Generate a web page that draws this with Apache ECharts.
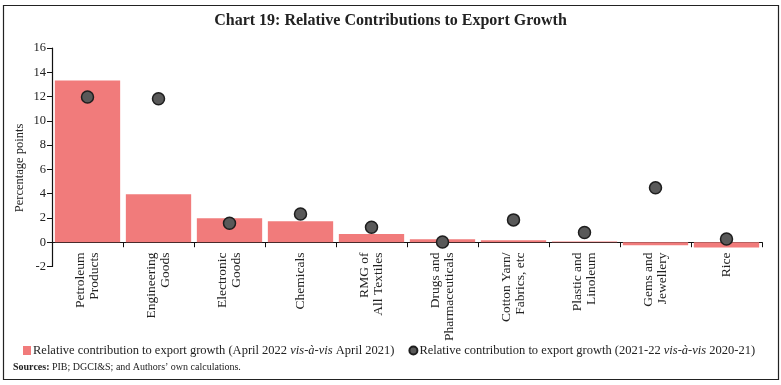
<!DOCTYPE html>
<html><head><meta charset="utf-8">
<script src="https://cdn.jsdelivr.net/npm/echarts@6/dist/echarts.min.js"></script>
<style>html,body{margin:0;padding:0;background:#fff}#c{width:781px;height:385px}</style>
</head><body><div id="c"></div>
<script>
const categories = ["Petroleum\nProducts","Engineering\nGoods","Electronic\nGoods","Chemicals","RMG of\nAll Textiles","Drugs and\nPharmaceuticals","Cotton Yarn/\nFabrics, etc","Plastic and\nLinoleum","Gems and\nJewellery","Rice"];
const aprilContrib = [13.33, 3.96, 1.98, 1.73, 0.68, 0.25, 0.16, 0.05, -0.25, -0.44];
const annualContrib = [11.96, 11.82, 1.57, 2.33, 1.24, 0.02, 1.84, 0.80, 4.48, 0.27];
const yTicks = {min: -2, max: 16, interval: 2};

const FF = '"Liberation Serif", "DejaVu Serif", serif';
const chart = echarts.init(document.getElementById('c'));
chart.setOption({
  animation: false,
  textStyle: {fontFamily: FF},
  title: {text: 'Chart 19: Relative Contributions to Export Growth', left: 'center', top: 8,
    textStyle: {fontFamily: FF, fontWeight: 'bold', fontSize: 16, color: '#222'}},
  grid: {left: 52, right: 19, top: 48, bottom: 118.5},
  legend: {
    bottom: 23, left: 18, itemGap: 14, itemWidth: 8, itemHeight: 9,
    textStyle: {fontFamily: FF, fontSize: 12.5, color: '#222', padding: [0,0,0,-3],
      rich: {i: {fontStyle: 'italic', fontFamily: FF, fontSize: 12.5, color: '#222'}}},
    formatter: function (n) {
      if (n === 'a') return 'Relative contribution to export growth (April 2022 {i|vis-à-vis} April 2021)';
      return 'Relative contribution to export growth (2021-22 {i|vis-à-vis} 2020-21)';
    },
    data: [{name: 'a', icon: 'rect'}, {name: 'b', icon: 'circle'}]
  },
  xAxis: {
    type: 'category', data: categories,
    axisLine: {onZero: true, lineStyle: {color: '#111', width: 1.2}},
    axisTick: {show: true, length: 5, lineStyle: {color: '#111'}},
    axisLabel: {rotate: 90, interval: 0, fontFamily: FF, fontSize: 13.5, color: '#222', lineHeight: 14, margin: -14}
  },
  yAxis: {
    type: 'value', min: yTicks.min, max: yTicks.max, interval: yTicks.interval,
    splitLine: {show: false},
    axisLine: {show: true, lineStyle: {color: '#111', width: 1.2}},
    axisTick: {show: true, length: 5, lineStyle: {color: '#111'}},
    axisLabel: {fontFamily: FF, fontSize: 12.5, color: '#222', margin: 6}
  },
  graphic: [
    {type: 'rect', shape: {x: 3.5, y: 5.5, width: 775, height: 374}, style: {fill: 'none', stroke: '#222', lineWidth: 1.2}, silent: true},
    {type: 'text', x: 20, y: 168, rotation: Math.PI / 2, style: {text: 'Percentage points', fontFamily: FF, fontSize: 12.5, fill: '#222', align: 'center', verticalAlign: 'middle'}},
    {type: 'text', x: 13, y: 367, style: {text: '{b|Sources:} PIB; DGCI&S; and Authors\u2019 own calculations.', fontFamily: FF, fontSize: 10, fill: '#222', verticalAlign: 'middle',
      rich: {b: {fontWeight: 'bold', fontFamily: FF, fontSize: 10, fill: '#222'}}}}
  ],
  series: [
    {name: 'a', type: 'bar', data: aprilContrib, barCategoryGap: '8%', itemStyle: {color: '#F17B7B'}},
    {name: 'b', type: 'scatter', data: annualContrib, symbolSize: 12, itemStyle: {color: '#595959', borderColor: '#1e1e1e', borderWidth: 1.5, opacity: 1}, z: 5}
  ]
});
</script></body></html>
